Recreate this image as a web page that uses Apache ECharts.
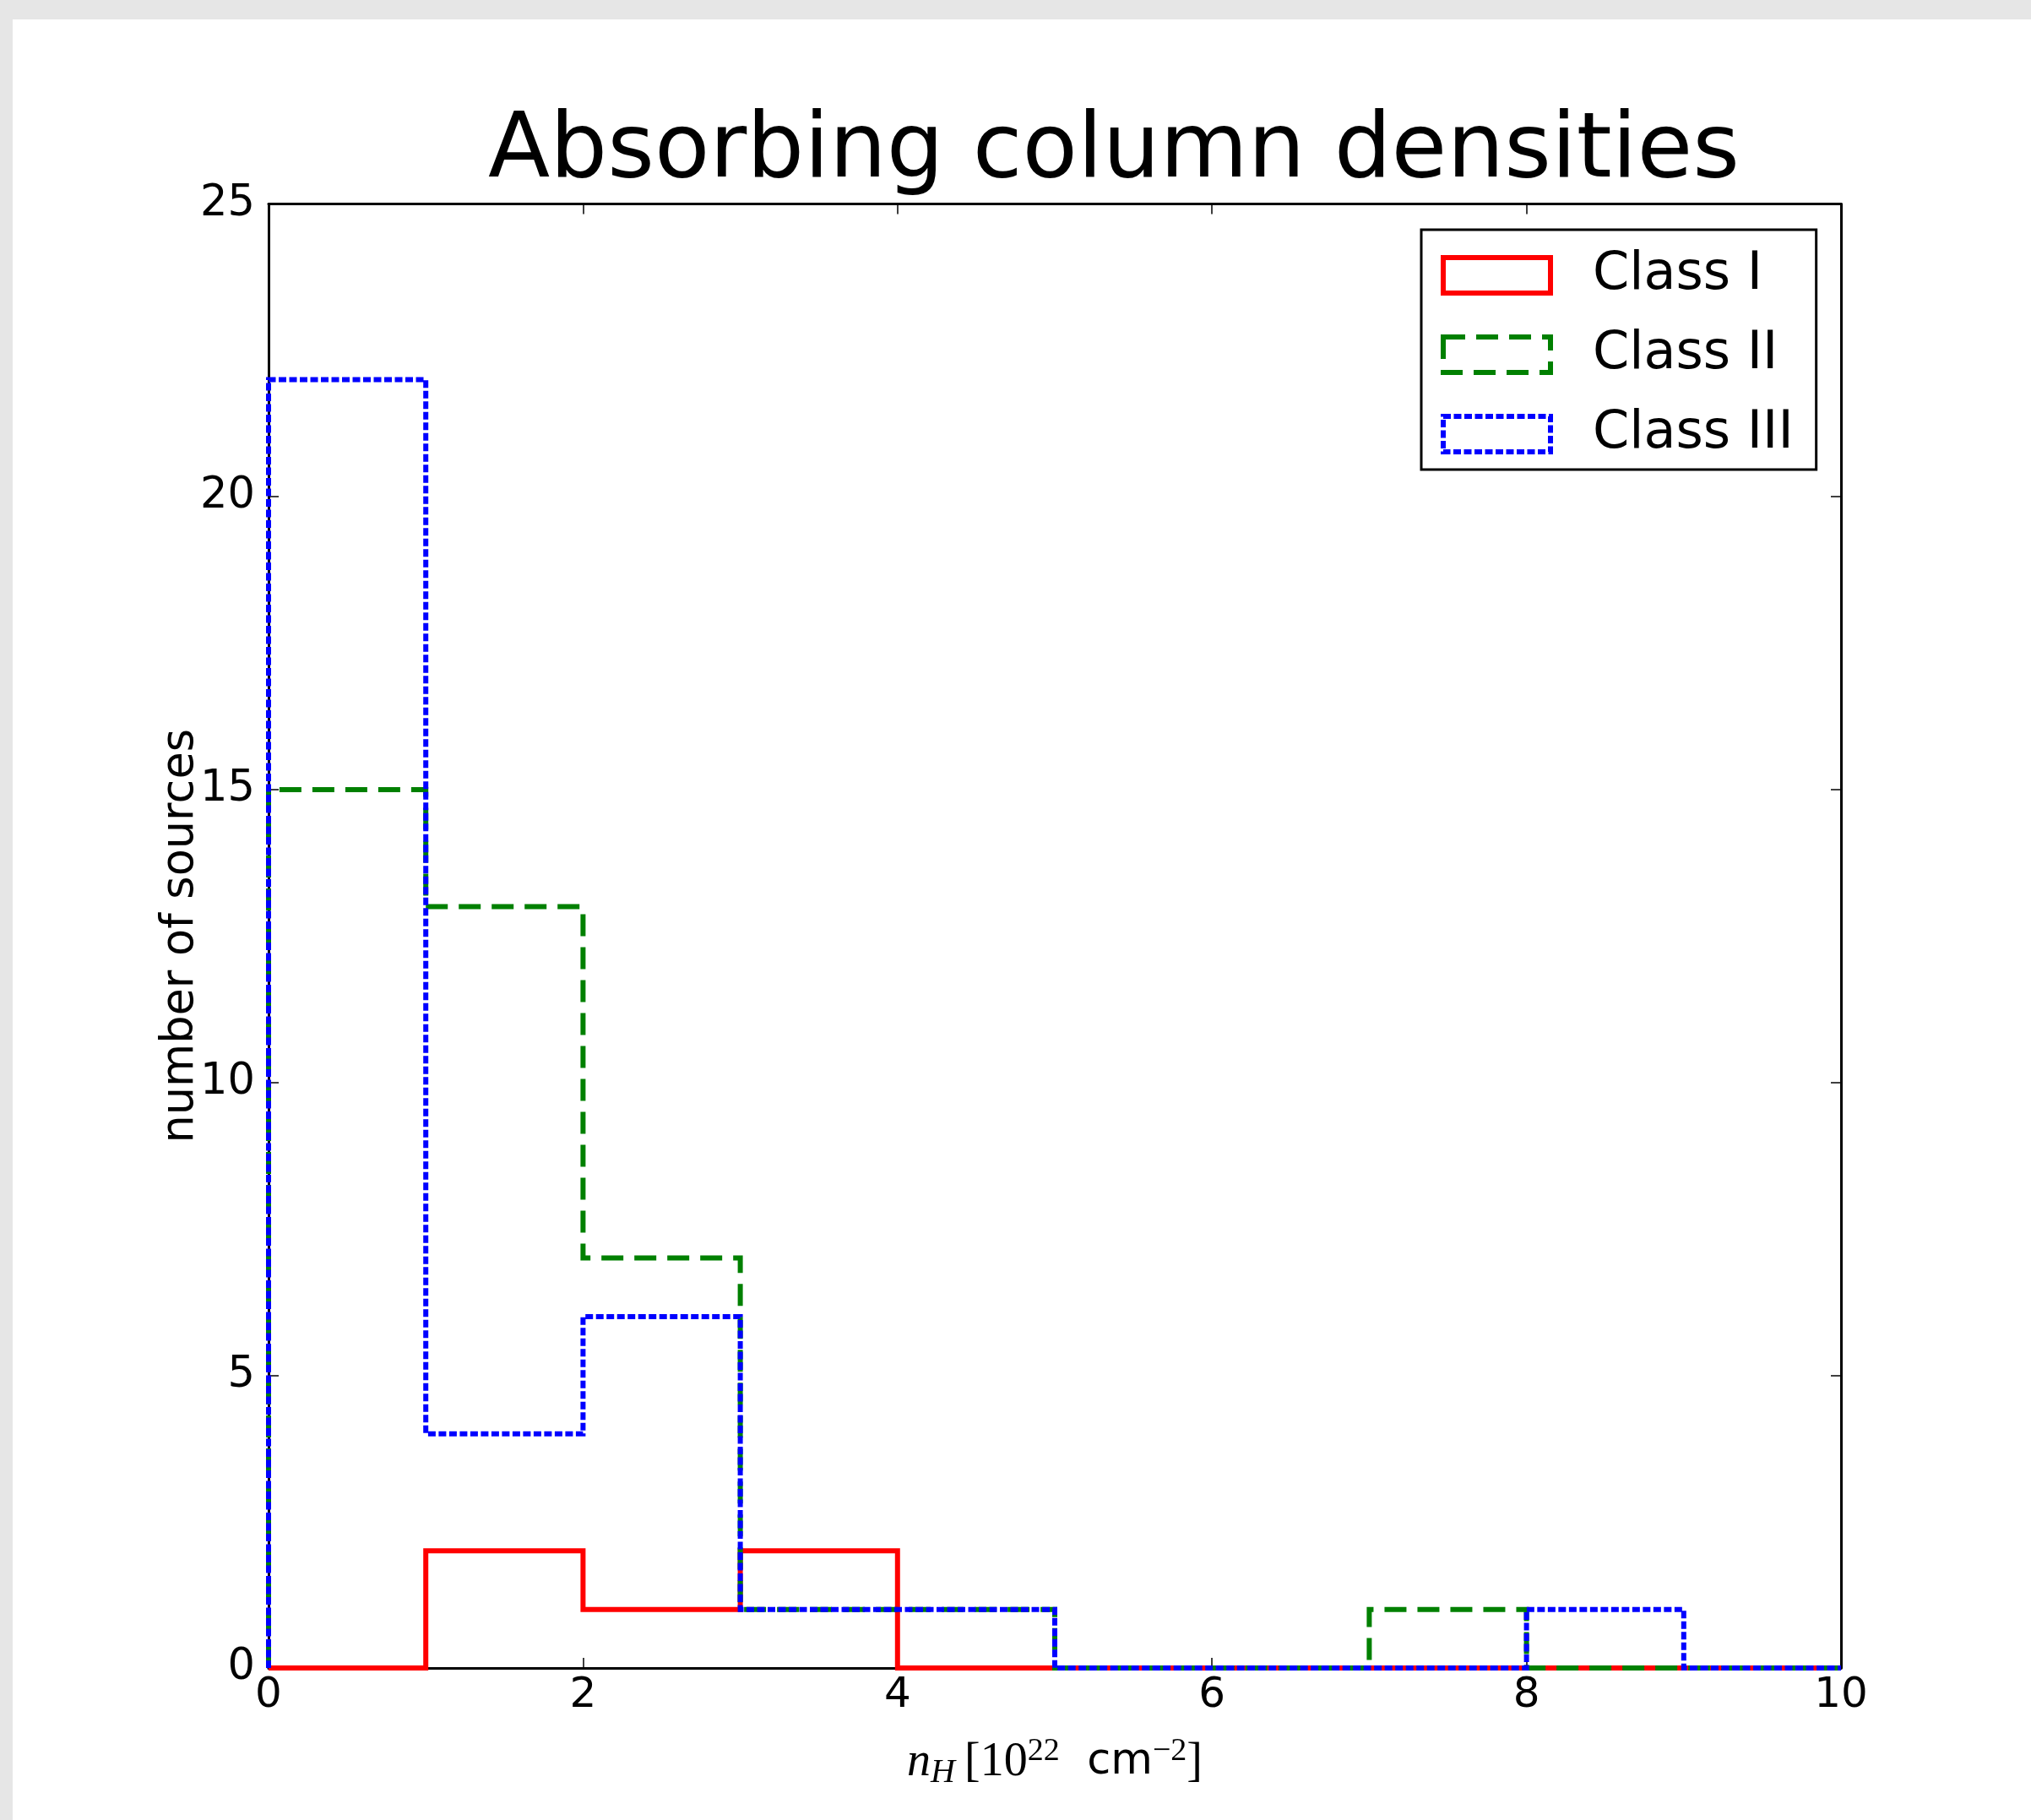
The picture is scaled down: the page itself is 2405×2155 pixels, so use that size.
<!DOCTYPE html>
<html>
<head>
<meta charset="utf-8">
<script src="https://cdn.jsdelivr.net/npm/echarts@6/dist/echarts.min.js"></script>
<style>
html, body { margin: 0; padding: 0; background: #e6e6e6; }
#main { width: 2405px; height: 2155px; }
</style>
</head>
<body>
<div id="main"></div>
<script>
// histogram bins (n_H in 10^22 cm^-2) and counts per class
var binEdges = [0, 1, 2, 3, 4, 5, 6, 7, 8, 9, 10];
var classI   = [0, 2, 1, 2, 0, 0, 0, 0, 0, 0];
var classII  = [15, 13, 7, 1, 1, 0, 0, 1, 0, 0];
var classIII = [22, 4, 6, 1, 1, 0, 0, 0, 1, 0];
var seriesNames = ['Class I', 'Class II', 'Class III'];
var xTicks = [0, 2, 4, 6, 8, 10];
var yTicks = [0, 5, 10, 15, 20, 25];

var font = 'DejaVu Sans';

// turn counts into the outline of a step histogram
var stepPoints = function (counts) {
    var pts = [[binEdges[0], 0]];
    for (var i = 0; i < counts.length; i++) {
        pts.push([binEdges[i], counts[i]]);
    }
    var last = binEdges[counts.length];
    pts.push([last, counts[counts.length - 1]]);
    pts.push([last, 0]);
    return pts;
};

var styles = [
    {color: '#ff0000', type: 'solid'},
    {color: '#008000', type: [26, 13]},
    {color: '#0000ff', type: [9, 3.5]}
];
var allCounts = [classI, classII, classIII];

var series = [];
for (var k = 0; k < 3; k++) {
    series.push({
        name: seriesNames[k],
        type: 'line',
        step: 'end',
        symbol: 'none',
        data: stepPoints(allCounts[k]),
        lineStyle: {color: styles[k].color, width: 6, type: styles[k].type, cap: 'butt', join: 'miter'},
        itemStyle: {color: styles[k].color},
        z: 2 + k
    });
}

var legendData = [];
for (var j = 0; j < 3; j++) {
    legendData.push({
        name: seriesNames[j],
        icon: 'rect',
        itemStyle: {color: 'rgba(0,0,0,0)', borderColor: styles[j].color, borderWidth: 6, borderType: styles[j].type}
    });
}

var axisCommon = {
    type: 'value',
    splitLine: {show: false},
    axisLine: {show: true, onZero: false, lineStyle: {color: '#000', width: 3}},
    axisTick: {show: true, inside: true, length: 12, lineStyle: {color: '#000', width: 1.5}}
};

option = {
    backgroundColor: '#e6e6e6',
    animation: false,
    graphic: [
        {type: 'rect', shape: {x: 15, y: 23, width: 2405, height: 2155}, style: {fill: '#ffffff'}, z: -100, silent: true},
        {type: 'text', x: 1319, y: 181, style: {text: 'Absorbing column densities', font: '107px "DejaVu Sans"', fill: '#000', textAlign: 'center', textVerticalAlign: 'middle'}}
    ],
    grid: {left: 318, right: 225, top: 241.5, bottom: 180},
    legend: {
        orient: 'vertical',
        left: 1683,
        top: 272,
        data: legendData,
        itemWidth: 127,
        itemHeight: 42,
        itemGap: 32,
        padding: [23, 27, 11, 23],
        borderColor: '#000',
        borderWidth: 3,
        borderRadius: 0,
        backgroundColor: '#fff',
        textStyle: {fontFamily: font, fontSize: 62, color: '#000', padding: [0, 0, 0, 45]}
    },
    xAxis: [
        Object.assign({}, axisCommon, {
            min: 0, max: 10, interval: 2,
            name: '{i|n}{sub|H}{r|\u2009[10}{sup|22}{s|  cm}{sup|\u22122}{r|]}',
            nameLocation: 'middle',
            nameGap: 80,
            nameTextStyle: {
                rich: {
                    i: {fontFamily: 'Liberation Serif', fontStyle: 'italic', fontSize: 56, color: '#000'},
                    sub: {fontFamily: 'Liberation Serif', fontStyle: 'italic', fontSize: 40, color: '#000', verticalAlign: 'bottom', padding: [24, 0, 0, 0]},
                    r: {fontFamily: 'Liberation Serif', fontSize: 56, color: '#000'},
                    sup: {fontFamily: 'Liberation Serif', fontSize: 38, color: '#000', verticalAlign: 'top', padding: [0, 0, 24, 0]},
                    s: {fontFamily: font, fontSize: 51, color: '#000'}
                }
            },
            axisLabel: {fontFamily: font, fontSize: 50, color: '#000', margin: 8,
                formatter: function (v) { return xTicks.indexOf(v) >= 0 ? String(v) : ''; }}
        }),
        Object.assign({}, axisCommon, {
            min: 0, max: 10, interval: 2, position: 'top',
            axisLabel: {show: false}
        })
    ],
    yAxis: [
        Object.assign({}, axisCommon, {
            min: 0, max: 25, interval: 5,
            name: 'number of sources',
            nameLocation: 'middle',
            nameGap: 77,
            nameMoveOverlap: false,
            nameTextStyle: {fontFamily: font, fontSize: 52.5, color: '#000'},
            axisLabel: {fontFamily: font, fontSize: 51, color: '#000', margin: 16,
                formatter: function (v) { return yTicks.indexOf(v) >= 0 ? String(v) : ''; }}
        }),
        Object.assign({}, axisCommon, {
            min: 0, max: 25, interval: 5, position: 'right',
            axisLabel: {show: false}
        })
    ],
    series: series
};

var myChart = echarts.init(document.getElementById('main'));
myChart.setOption(option);
</script>
</body>
</html>
